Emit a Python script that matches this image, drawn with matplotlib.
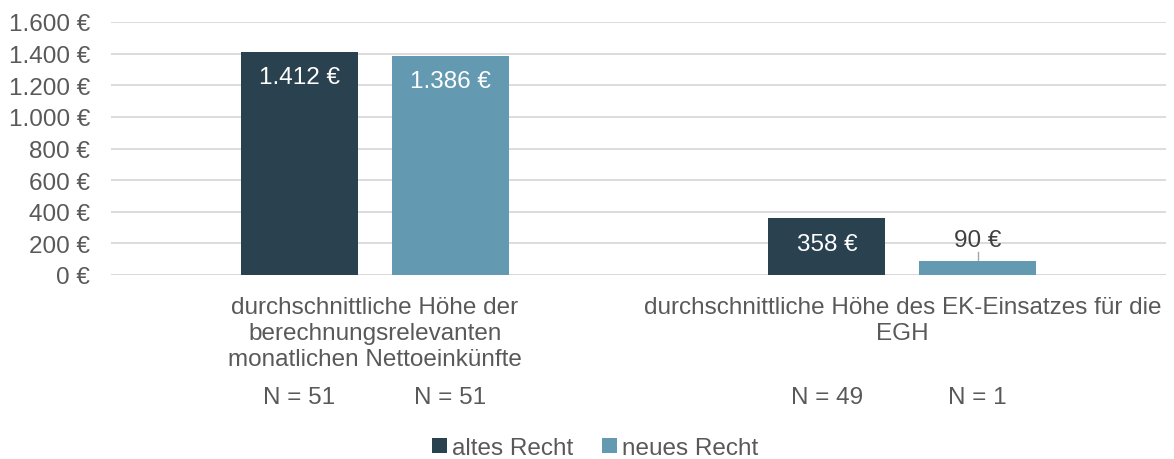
import matplotlib.pyplot as plt
import numpy as np

plt.rcParams['font.family'] = ['Liberation Sans', 'DejaVu Sans']

categories = ['durchschnittliche Höhe der\nberechnungsrelevanten\nmonatlichen Nettoeinkünfte',
              'durchschnittliche Höhe des EK-Einsatzes für die\nEGH']
series = ['altes Recht', 'neues Recht']
altes = [1412, 358]
neues = [1386, 90]
n_altes = [51, 49]
n_neues = [51, 1]
yticks = [0, 200, 400, 600, 800, 1000, 1200, 1400, 1600]

colors = ['#2a4150', '#6399b1']
FS = 17.5


def euro(v):
    return f'{v:,.0f} €'.replace(',', '.')


fig = plt.figure(figsize=(11.74, 4.6), dpi=100)
ax = fig.add_axes([111 / 1174, 1 - 276 / 460, 1055 / 1174, 253 / 460])

x = np.arange(len(categories))
w = 0.222
off = 0.143
b1 = ax.bar(x - off, altes, w, color=colors[0], label=series[0], zorder=3)
b2 = ax.bar(x + off, neues, w, color=colors[1], label=series[1], zorder=3)

ax.set_xlim(-0.5, 1.5)
ax.set_ylim(0, 1600)
ax.set_yticks(yticks)
ax.set_yticklabels([euro(v) for v in yticks])
ax.tick_params(axis='y', length=0, labelsize=FS, labelcolor='#595959', pad=15)
ax.tick_params(axis='x', length=0, labelbottom=False)
ax.grid(axis='y', color='#d9d9d9', linewidth=1.3, zorder=0)
for s in ax.spines.values():
    s.set_visible(False)
ax.axhline(0, color='#d9d9d9', linewidth=1.3, zorder=1)

# value labels
for bars, vals in [(b1, altes), (b2, neues)]:
    for rect, v in zip(bars, vals):
        cx = rect.get_x() + rect.get_width() / 2
        if v > 200:
            ax.text(cx, v - 160, euro(v), ha='center', va='center', color='white', fontsize=FS, zorder=4)
        else:
            ax.plot([cx, cx], [v + 5, 145], color='#a6a6a6', linewidth=1, zorder=4)
            ax.text(cx, 221, euro(v), ha='center', va='center', color='#404040', fontsize=FS, zorder=4)

# category labels and N
for i, cat in enumerate(categories):
    ax.text(i, -130, cat, ha='center', va='top', color='#595959', fontsize=FS,
            linespacing=1.26, clip_on=False)
    ax.text(i - off, -771, f'N = {n_altes[i]}', ha='center', va='center', color='#595959',
            fontsize=FS, clip_on=False)
    ax.text(i + off, -771, f'N = {n_neues[i]}', ha='center', va='center', color='#595959',
            fontsize=FS, clip_on=False)

leg = fig.legend(handles=[b1, b2], labels=series, loc='center', bbox_to_anchor=(595 / 1174, 1 - 449 / 460),
                 ncol=2, frameon=False, fontsize=FS, handlelength=0.6, handleheight=0.6,
                 handletextpad=0.2, columnspacing=1.2, borderpad=0)
for t in leg.get_texts():
    t.set_color('#595959')

fig.savefig('out.png', dpi=100)
